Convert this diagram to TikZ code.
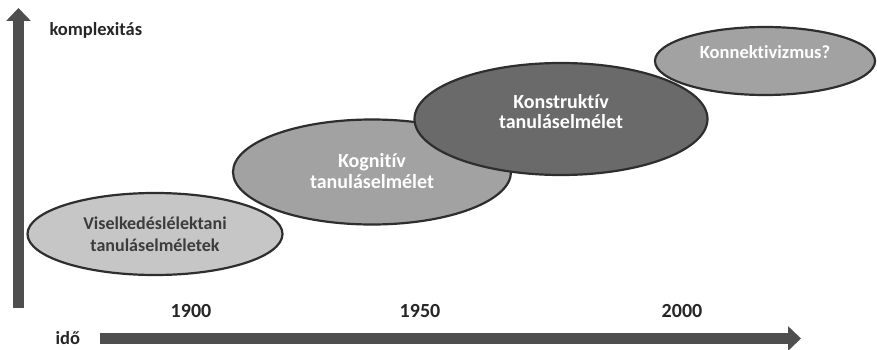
\documentclass[tikz,border=0pt]{standalone}
\usepackage{fontspec}
\setmainfont{Carlito}[Ligatures=NoCommon]
\usetikzlibrary{shapes.geometric,arrows.meta}
\definecolor{axisgray}{HTML}{4E4E4E}
\definecolor{edgegray}{HTML}{2E2E2E}
\definecolor{lightfill}{HTML}{C6C6C6}
\definecolor{midfill}{HTML}{A2A2A2}
\definecolor{darkfill}{HTML}{6A6A6A}
\definecolor{darktext}{HTML}{3C3C3C}
\tikzset{
  era/.style={ellipse, draw=edgegray, line width=2.2pt, align=center,
    font=\bfseries, inner sep=0pt},
  axis/.style={draw=axisgray, line width=11pt,
    -{Triangle[length=13pt,width=24pt]}},
  axislabel/.style={font=\bfseries\fontsize{18.5}{21}\selectfont, text=black!85},
  yearlabel/.style={font=\bfseries\fontsize{20}{22}\selectfont, text=black!85},
}
\begin{document}
\begin{tikzpicture}[x=1pt,y=-1pt]
  \useasboundingbox (0,0) rectangle (877,350);

  % axes
  \coordinate (ybot) at (18.5,308);
  \coordinate (ytop) at (18.5,8);
  \coordinate (xleft) at (100,338.5);
  \coordinate (xright) at (801,338.5);
  \draw[axis] (ybot) -- (ytop);
  \draw[axis] (xleft) -- (xright);

  \node[axislabel, anchor=west] (komplex) at (46,30) {komplexitás};
  \node[axislabel, anchor=west] (ido) at (52,338) {idő};

  \node[yearlabel] (y1900) at (191,311) {1900};
  \node[yearlabel] (y1950) at (420,311) {1950};
  \node[yearlabel] (y2000) at (682,311) {2000};

  % eras, back to front
  \node[era, fill=midfill, text=white, minimum width=278pt, minimum height=105pt,
    font=\bfseries\fontsize{20}{24}\selectfont] (kogn) at (372,172)
    {\raisebox{2pt}{\shortstack{Kognitív\\[1pt]tanuláselmélet}}};
  \node[era, fill=lightfill, text=darktext, minimum width=255pt, minimum height=82pt,
    font=\bfseries\fontsize{18}{22}\selectfont] (visel) at (155,234)
    {Viselkedéslélektani\\tanuláselméletek};
  \node[era, fill=darkfill, text=white, minimum width=293pt, minimum height=112pt,
    font=\bfseries\fontsize{20}{25}\selectfont] (konstr) at (561,119)
    {\raisebox{15pt}{\shortstack{Konstruktív\\[2pt]tanuláselmélet}}};
  \node[era, fill=midfill, text=white, minimum width=220pt, minimum height=68pt,
    font=\bfseries\fontsize{18.5}{22}\selectfont] (konn) at (765,61)
    {\raisebox{17pt}{Konnektivizmus?}};
\end{tikzpicture}
\end{document}
